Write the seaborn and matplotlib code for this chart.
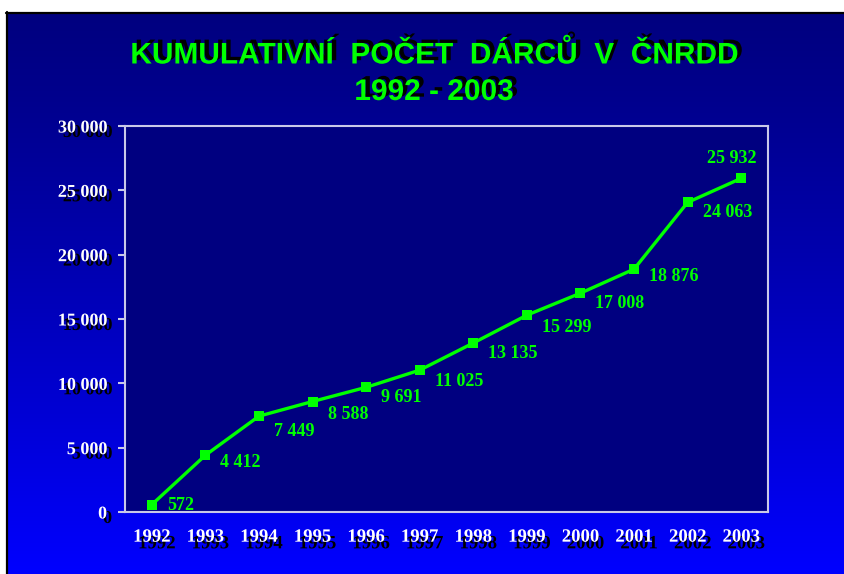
import numpy as np
import pandas as pd
import matplotlib
matplotlib.use("Agg")
import matplotlib.pyplot as plt
import matplotlib.patheffects as pe
import seaborn as sns

# ---- data ----
years = [1992, 1993, 1994, 1995, 1996, 1997, 1998, 1999, 2000, 2001, 2002, 2003]
donors = [572, 4412, 7449, 8588, 9691, 11025, 13135, 15299, 17008, 18876, 24063, 25932]
y_ticks = [0, 5000, 10000, 15000, 20000, 25000, 30000]
title_line1 = "KUMULATIVNÍ  POČET  DÁRCŮ  V  ČNRDD"
title_line2 = "1992 - 2003"

df = pd.DataFrame({"year": years, "donors": donors})

def fmt(v):
    return f"{v:,}".replace(",", " ")

sns.set_theme(style="white")
plt.rcParams["font.family"] = ["Liberation Serif", "DejaVu Serif"]

W, H = 844, 574
fig = plt.figure(figsize=(W / 100, H / 100), dpi=100, facecolor="white")

# background slide with vertical gradient
bg = fig.add_axes([0, 0, 1, 1], zorder=-5)
bg.set_xlim(0, W)
bg.set_ylim(H, 0)
bg.axis("off")
t = np.linspace(0, 1, 256) ** 1.2
grad = np.zeros((256, 2, 3))
grad[:, :, 2] = ((128 + 127 * t) / 255.0)[:, None]
bg.imshow(grad, extent=(6, W, H, 12), aspect="auto", interpolation="bilinear")
bg.plot([7, 7], [12, H], color="black", lw=1.6)
bg.plot([6, W], [13, 13], color="black", lw=1.6)

# plot area
L, R, T, B = 125, 768, 126, 512
ax = fig.add_axes([L / W, 1 - B / H, (R - L) / W, (B - T) / H])
ax.set_facecolor("#000080")

sns.lineplot(data=df, x="year", y="donors", ax=ax, color="#00FF00", lw=2.4,
             marker="s", markersize=7, markeredgewidth=0, markerfacecolor="#00FF00")

ax.set_xlim(years[0] - 0.5, years[-1] + 0.5)
ax.set_ylim(y_ticks[0], y_ticks[-1])
ax.set_xlabel("")
ax.set_ylabel("")

shadow_y = [pe.withSimplePatchShadow(offset=(3.6, -3.2), shadow_rgbFace="black", alpha=1.0)]
shadow_x = [pe.withSimplePatchShadow(offset=(3.6, -4.8), shadow_rgbFace="black", alpha=1.0)]

ax.set_yticks(y_ticks)
ax.set_yticklabels([fmt(v) for v in y_ticks], fontsize=13, fontweight="bold",
                   color="white", path_effects=shadow_y)
ax.set_xticks(years)
ax.set_xticklabels([str(y) for y in years], fontsize=13.5, fontweight="bold",
                   color="white", path_effects=shadow_x)
ax.set_xticks([y - 0.5 for y in years] + [years[-1] + 0.5], minor=True)
ax.tick_params(axis="x", which="major", length=0, pad=12)
ax.tick_params(axis="x", which="minor", length=4, width=2.2, color="white", direction="out")
ax.tick_params(axis="y", which="major", length=5, width=1.5, color="#C8C8E8", pad=8, left=True)

for s in ax.spines.values():
    s.set_visible(True)
    s.set_color("#C8C8E8")
    s.set_linewidth(1.5)

# data labels
label_dy = [1, 7, 15, 13, 10, 11, 11, 12, 10, 7, 10]
for i, (x, v) in enumerate(zip(years, donors)):
    if i < len(label_dy):
        ax.annotate(fmt(v), (x, v), xytext=(15, -label_dy[i]), textcoords="offset pixels",
                    ha="left", va="center", fontsize=13, fontweight="bold", color="#00FF00")
    else:
        ax.annotate(fmt(v), (x, v), xytext=(-9, 20), textcoords="offset pixels",
                    ha="center", va="center", fontsize=13, fontweight="bold", color="#00FF00")

# titles
shadow_title = [pe.withSimplePatchShadow(offset=(3.2, 2.4), shadow_rgbFace="black", alpha=1.0)]
for txt, yp in [(title_line1, 55), (title_line2, 92)]:
    fig.text(434 / W, 1 - yp / H, txt, ha="center", va="center", fontsize=21.5,
             fontweight="bold", color="#00FF00",
             family=["Liberation Sans", "DejaVu Sans"],
             path_effects=shadow_title)

fig.savefig("out.png", dpi=100, facecolor="white")
